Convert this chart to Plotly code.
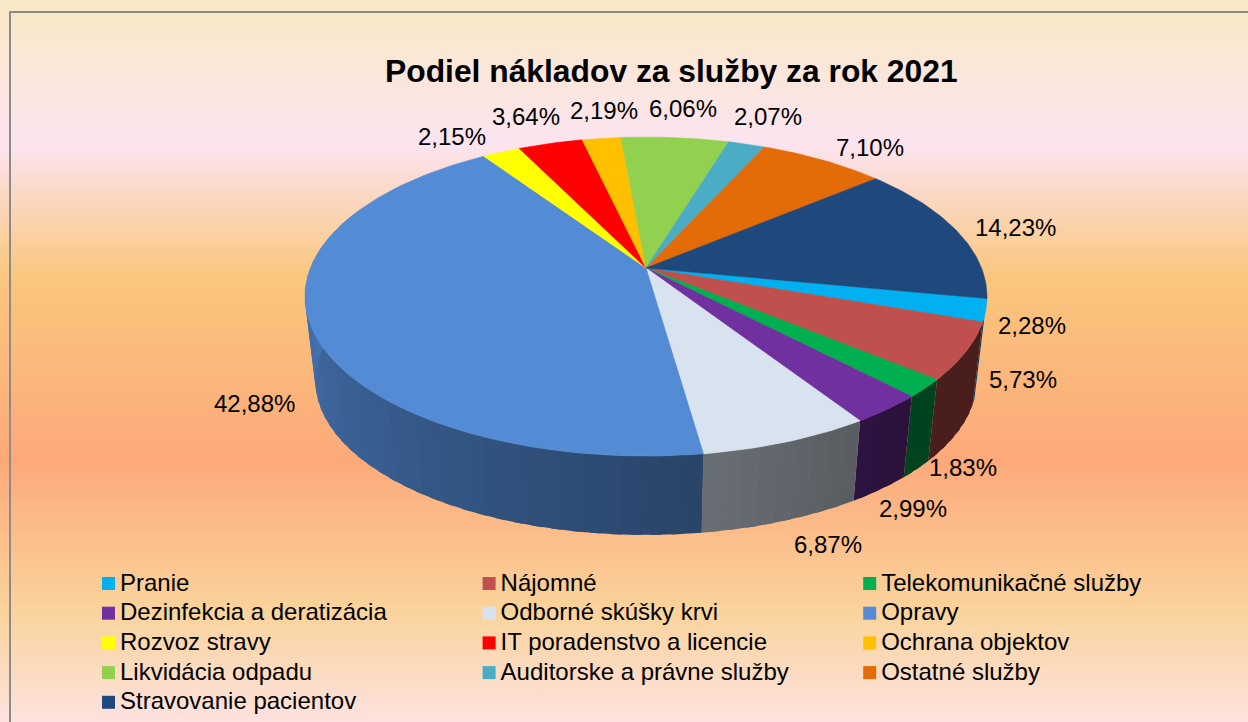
import math
import plotly.graph_objects as go

# ---- data ----
categories = ["Pranie", "Nájomné", "Telekomunikačné služby", "Dezinfekcia a deratizácia",
              "Odborné skúšky krvi", "Opravy", "Rozvoz stravy", "IT poradenstvo a licencie",
              "Ochrana objektov", "Likvidácia odpadu", "Auditorske a právne služby",
              "Ostatné služby", "Stravovanie pacientov"]
values = [2.28, 5.73, 1.83, 2.99, 6.87, 42.88, 2.15, 3.64, 2.19, 6.06, 2.07, 7.10, 14.23]
labels = ["2,28%", "5,73%", "1,83%", "2,99%", "6,87%", "42,88%", "2,15%", "3,64%",
          "2,19%", "6,06%", "2,07%", "7,10%", "14,23%"]
colors = ["#00B0F0", "#C0504D", "#00B050", "#7030A0", "#D9E3F0", "#538BD5", "#FFFF00",
          "#FF0000", "#FFC000", "#92D050", "#4BACC6", "#E36C09", "#1F497D"]
title = "Podiel nákladov za služby za rok 2021"

# label offsets (px) from the rim midpoint of each slice
label_dx = [46, 57, 38, 26, 41, -57, -49, -24, 2, 8, 21, 47, 59]
label_dy = [15, 28, 79, 99, 103, 77, -16, -27, -28, -29, -28, -13, -3]

# ---- pie geometry (perspective disc) ----
START = 101.0
CX, CY, RX, RY, K = 646.0, 268.0, 335.5, 154.4, 0.179
BOTTOM_SCALE, BOTTOM_CY = 0.97, 352.6
FONT = "Liberation Sans, Arial, sans-serif"


def top_pt(theta):
    u, v = math.sin(math.radians(theta)), math.cos(math.radians(theta))
    w = 1 + K * v
    return CX + RX * u / w, CY - RY * v / w


def bottom_pt(theta):
    u, v = math.sin(math.radians(theta)), math.cos(math.radians(theta))
    w = 1 + K * v
    return CX + BOTTOM_SCALE * RX * u / w, BOTTOM_CY - BOTTOM_SCALE * RY * v / w


def shade(theta):
    return max(0.38, min(0.86, 0.49 + (theta - 172) * 0.00333))


def dim(hex_color, f):
    r, g, b = (int(hex_color[i:i + 2], 16) for i in (1, 3, 5))
    return f"rgb({r * f:.0f},{g * f:.0f},{b * f:.0f})"


def poly(points, color, width=0.6):
    xs, ys = zip(*points)
    return go.Scatter(x=list(xs) + [xs[0]], y=list(ys) + [ys[0]], mode="lines", fill="toself",
                      fillcolor=color, line=dict(color=color, width=width), hoverinfo="skip",
                      showlegend=False)


total = sum(values)
edges = [START]
for val in values:
    edges.append(edges[-1] + val / total * 360)

fig = go.Figure()

# background gradient
fig.add_trace(go.Heatmap(
    x=[11, 1248], y=[13, 722], z=[[0, 0], [1, 1]], zsmooth="best", showscale=False, hoverinfo="skip",
    colorscale=[[0, "#FAE9C8"], [(143 - 13) / 709, "#FCE4F0"], [(277 - 13) / 709, "#FAC67D"],
                [(460 - 13) / 709, "#FDA97A"], [(610 - 13) / 709, "#FAD39B"], [1, "#FDE2DF"]]))

# side wall, as narrow strips so it can be shaded
VIS_LO, VIS_HI = 107.0, 292.0
STEP = 3.0
for i, color in enumerate(colors):
    a, b = max(edges[i], VIS_LO), min(edges[i + 1], VIS_HI)
    if a >= b:
        continue
    n = max(1, math.ceil((b - a) / STEP))
    # strips overlap their neighbour, drawn left to right within the slice, so no seams show
    for j in range(n):
        t1 = a + (b - a) * j / n
        t2 = b if j == n - 1 else a + (b - a) * (j + 1) / n + STEP * 0.5
        fig.add_trace(poly([top_pt(t1), top_pt(t2), bottom_pt(t2), bottom_pt(t1)],
                           dim(color, shade(t1 + STEP / 2)), width=0))

# top faces
for i, color in enumerate(colors):
    lo, hi = edges[i], edges[i + 1]
    n = max(4, math.ceil(hi - lo))
    rim = [top_pt(lo + (hi - lo) * j / n) for j in range(n + 1)]
    fig.add_trace(poly([(CX, CY)] + rim, color))

# legend built as squares + text in three columns
leg_x = [108.5 + 380.6 * (i % 3) for i in range(len(categories))]
leg_y = [583.5 + 29.7 * (i // 3) for i in range(len(categories))]
fig.add_trace(go.Scatter(x=leg_x, y=leg_y, mode="markers", hoverinfo="skip", showlegend=False,
                         marker=dict(symbol="square", size=13, color=colors, line=dict(width=0))))
fig.add_trace(go.Scatter(x=[v + 11.5 for v in leg_x], y=[v + 1 for v in leg_y], mode="text", text=categories,
                         textposition="middle right", hoverinfo="skip", showlegend=False,
                         textfont=dict(family=FONT, size=24, color="#000000")))

# data labels
annotations = []
for i, txt in enumerate(labels):
    x, y = top_pt((edges[i] + edges[i + 1]) / 2)
    annotations.append(dict(x=x, y=y, xref="x", yref="y", text=txt, showarrow=False,
                            xshift=label_dx[i], yshift=-label_dy[i], xanchor="center", yanchor="middle",
                            font=dict(family=FONT, size=24, color="#000000")))

annotations.append(dict(x=671.5, y=71, xref="x", yref="y", text=f"<b>{title}</b>", showarrow=False,
                        xanchor="center", yanchor="middle",
                        font=dict(family=FONT, size=31.8, color="#000000")))

fig.update_layout(
    width=1248, height=722, margin=dict(l=0, r=0, t=0, b=0),
    paper_bgcolor="#FFFFFF", plot_bgcolor="#FFFFFF", showlegend=False,
    xaxis=dict(range=[0, 1248], visible=False, fixedrange=True),
    yaxis=dict(range=[722, 0], visible=False, fixedrange=True),
    annotations=annotations,
    shapes=[dict(type="rect", xref="x", yref="y", x0=10, y0=12, x1=1300, y1=800,
                 line=dict(color="#8C8C8C", width=2), layer="above")],
)

fig.write_html("out.html", config=dict(displayModeBar=False),
               post_script="document.body.style.margin='0';document.body.style.overflow='hidden';")
